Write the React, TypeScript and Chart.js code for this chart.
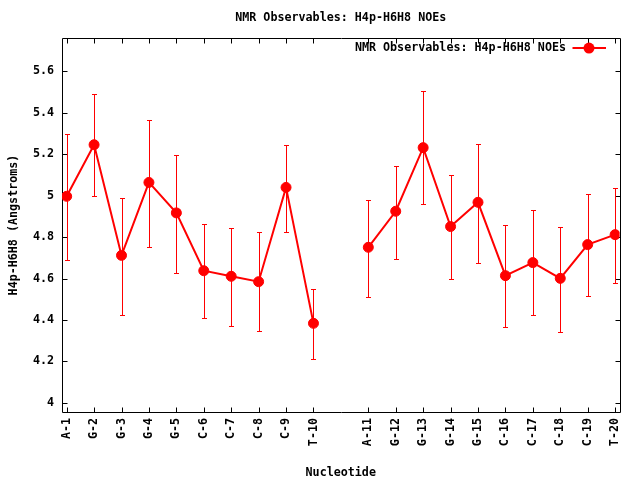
import React, { useEffect, useRef } from "react";
import { Chart, registerables } from "chart.js";

Chart.register(...registerables);

const TITLE = "NMR Observables: H4p-H6H8 NOEs";
const X_TITLE = "Nucleotide";
const Y_TITLE = "H4p-H6H8 (Angstroms)";

const categories = [
  "A-1", "G-2", "G-3", "G-4", "G-5", "C-6", "C-7", "C-8", "C-9", "T-10",
  "A-11", "G-12", "G-13", "G-14", "G-15", "C-16", "C-17", "C-18", "C-19", "T-20",
];
const values = [
  4.997, 5.246, 4.712, 5.064, 4.917, 4.638, 4.611, 4.585, 5.04, 4.384,
  4.751, 4.925, 5.232, 4.851, 4.968, 4.614, 4.677, 4.601, 4.764, 4.812,
];
const upper = [
  5.298, 5.489, 4.987, 5.367, 5.195, 4.862, 4.842, 4.823, 5.243, 4.548,
  4.978, 5.142, 5.504, 5.098, 5.25, 4.857, 4.929, 4.847, 5.008, 5.035,
];
const lower = [
  4.69, 5.0, 4.423, 4.753, 4.629, 4.41, 4.372, 4.347, 4.825, 4.212,
  4.511, 4.695, 4.96, 4.598, 4.676, 4.367, 4.425, 4.343, 4.516, 4.579,
];
const yTickValues = [4, 4.2, 4.4, 4.6, 4.8, 5, 5.2, 5.4, 5.6];
const GAP_AFTER = "T-10";

const RED = "#ff0000";
const FONT_FAMILY = "'DejaVu Sans Mono', 'Liberation Mono', monospace";
const FONT = { family: FONT_FAMILY, size: 11.7, weight: "bold" as const, lineHeight: 1.2 };

const gapIndex = categories.indexOf(GAP_AFTER);
const posOf = (i: number) => i + 1 + (i > gapIndex ? 1 : 0);
const xTickValues = categories.map((_, i) => posOf(i));

const framePlugin = {
  id: "gnuFrame",
  beforeDatasetsDraw(chart: any) {
    const { ctx, chartArea, scales } = chart;
    const l = Math.round(chartArea.left) + 0.5;
    const r = Math.round(chartArea.right) + 0.5;
    const t = Math.round(chartArea.top) + 0.5;
    const b = Math.round(chartArea.bottom) + 0.5;
    ctx.save();
    ctx.strokeStyle = "#000";
    ctx.lineWidth = 1;
    ctx.beginPath();
    ctx.rect(l, t, r - l, b - t);
    const tl = 5;
    xTickValues.forEach((v) => {
      const x = Math.round(scales.x.getPixelForValue(v)) + 0.5;
      ctx.moveTo(x, b);
      ctx.lineTo(x, b - tl);
      ctx.moveTo(x, t);
      ctx.lineTo(x, t + tl);
    });
    yTickValues.forEach((v) => {
      const y = Math.round(scales.y.getPixelForValue(v)) + 0.5;
      ctx.moveTo(l, y);
      ctx.lineTo(l + tl, y);
      ctx.moveTo(r, y);
      ctx.lineTo(r - tl, y);
    });
    ctx.stroke();

    // error bars
    ctx.strokeStyle = RED;
    ctx.lineWidth = 1;
    ctx.beginPath();
    categories.forEach((_, i) => {
      const x = Math.round(scales.x.getPixelForValue(posOf(i))) + 0.5;
      const yt = Math.round(scales.y.getPixelForValue(upper[i])) + 0.5;
      const yb = Math.round(scales.y.getPixelForValue(lower[i])) + 0.5;
      ctx.moveTo(x, yt);
      ctx.lineTo(x, yb);
      ctx.moveTo(x - 2.5, yt);
      ctx.lineTo(x + 2.5, yt);
      ctx.moveTo(x - 2.5, yb);
      ctx.lineTo(x + 2.5, yb);
    });
    ctx.stroke();
    ctx.restore();
  },
};

const legendPlugin = {
  id: "gnuLegend",
  afterDraw(chart: any) {
    const { ctx, chartArea } = chart;
    const ds = chart.data.datasets[0];
    const y = chartArea.top + 10;
    const right = chartArea.right;
    ctx.save();
    ctx.font = `bold ${FONT.size}px ${FONT_FAMILY}`;
    ctx.fillStyle = "#000";
    ctx.textAlign = "right";
    ctx.textBaseline = "middle";
    ctx.fillText(ds.label, right - 53.5, y);
    ctx.strokeStyle = RED;
    ctx.lineWidth = 2;
    ctx.beginPath();
    ctx.moveTo(right - 47, y);
    ctx.lineTo(right - 13.5, y);
    ctx.stroke();
    ctx.fillStyle = RED;
    ctx.beginPath();
    ctx.arc(right - 30.5, y, 5.5, 0, Math.PI * 2);
    ctx.fill();
    ctx.restore();
  },
};

export default function App() {
  const canvasRef = useRef<HTMLCanvasElement | null>(null);

  useEffect(() => {
    const canvas = canvasRef.current;
    if (!canvas) return;
    const points: { x: number; y: number | null }[] = [];
    categories.forEach((_, i) => {
      points.push({ x: posOf(i), y: values[i] });
      if (i === gapIndex) points.push({ x: posOf(i) + 1, y: null });
    });

    const chart = new Chart(canvas, {
      type: "line",
      data: {
        datasets: [
          {
            label: TITLE,
            data: points as any,
            borderColor: RED,
            backgroundColor: RED,
            borderWidth: 2,
            pointRadius: 5,
            pointBorderWidth: 1,
            pointBackgroundColor: RED,
            pointBorderColor: RED,
            spanGaps: false,
            tension: 0,
          },
        ],
      },
      options: {
        animation: false,
        responsive: false,
        devicePixelRatio: 1,
        layout: { padding: { top: 0, right: 20.5, bottom: 0, left: 0 } },
        plugins: {
          legend: { display: false },
          tooltip: { enabled: false },
          title: {
            display: true,
            fullSize: false,
            text: TITLE,
            color: "#000",
            font: FONT,
            padding: { top: 11, bottom: 13 },
          },
        },
        scales: {
          x: {
            type: "linear",
            min: 0.83,
            max: 21.16,
            grid: { display: false, drawTicks: false },
            border: { display: false },
            afterBuildTicks: (scale: any) => {
              scale.ticks = xTickValues.map((v) => ({ value: v }));
            },
            afterFit: (scale: any) => {
              scale.height = 68;
            },
            ticks: {
              autoSkip: false,
              maxRotation: 90,
              minRotation: 90,
              padding: 6,
              color: "#000",
              font: FONT,
              callback: (v: any) => {
                const i = xTickValues.indexOf(Number(v));
                return i >= 0 ? categories[i] : "";
              },
            },
            title: {
              display: true,
              text: X_TITLE,
              color: "#000",
              font: FONT,
              padding: { top: 0, bottom: 0 },
            },
          },
          y: {
            type: "linear",
            min: 3.956,
            max: 5.761,
            grid: { display: false, drawTicks: false },
            border: { display: false },
            afterBuildTicks: (scale: any) => {
              scale.ticks = yTickValues.map((v) => ({ value: v }));
            },
            afterFit: (scale: any) => {
              scale.width = 62;
            },
            ticks: {
              padding: 8,
              color: "#000",
              font: FONT,
              callback: (v: any) => String(Number(Number(v).toFixed(1))),
            },
            title: {
              display: true,
              text: Y_TITLE,
              color: "#000",
              font: FONT,
              padding: { top: 6.6, bottom: 0 },
            },
          },
        },
      },
      plugins: [framePlugin, legendPlugin],
    });
    return () => chart.destroy();
  }, []);

  return (
    <div style={{ position: "fixed", left: 0, top: 0, width: 640, height: 480, background: "#fff" }}>
      <canvas ref={canvasRef} width={640} height={480} style={{ display: "block" }} />
    </div>
  );
}
